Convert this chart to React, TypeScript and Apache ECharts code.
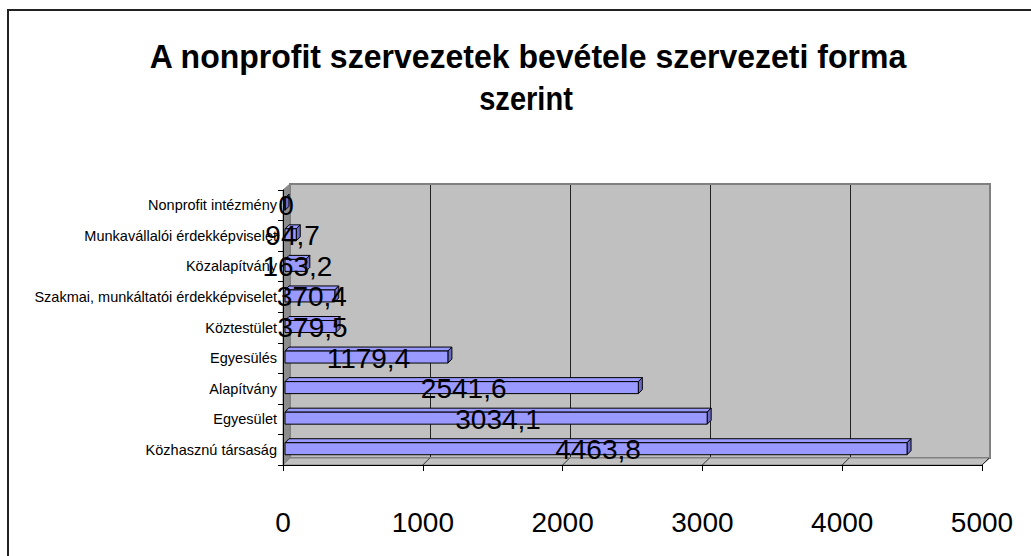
import React, { useEffect, useRef } from 'react';
import * as echarts from 'echarts';

// ---- data ----
const titleLines = ['A nonprofit szervezetek bevétele szervezeti forma', 'szerint'];
const categories = [
  'Nonprofit intézmény',
  'Munkavállalói érdekképviselet',
  'Közalapítvány',
  'Szakmai, munkáltatói érdekképviselet',
  'Köztestület',
  'Egyesülés',
  'Alapítvány',
  'Egyesület',
  'Közhasznú társaság',
];
const values = [0, 94.7, 163.2, 370.4, 379.5, 1179.4, 2541.6, 3034.1, 4463.8];
const xMin = 0;
const xMax = 5000;
const xInterval = 1000;

// ---- layout ----
const W = 1031;
const H = 556;
const FRONT = { left: 283, right: 982, top: 190, bottom: 465 };
const DX = 7;
const DY = -7;
const BACK = { left: FRONT.left + DX, right: 990, top: 184, bottom: FRONT.bottom + DY };
const FONT = '"Liberation Sans", Arial, sans-serif';

const fmt = (v: number) => (v === 0 ? '0' : v.toFixed(1).replace('.', ','));

function buildOption() {
  const ticks: number[] = [];
  for (let t = xMin; t <= xMax; t += xInterval) ticks.push(t);
  const xf = (t: number) => FRONT.left + ((t - xMin) / (xMax - xMin)) * (FRONT.right - FRONT.left);

  const graphics: any[] = [
    // back wall outline
    {
      type: 'rect',
      z: 1,
      shape: { x: BACK.left, y: BACK.top, width: BACK.right - BACK.left, height: BACK.bottom - BACK.top },
      style: { fill: 'none', stroke: '#808080', lineWidth: 2 },
    },
    // left wall
    {
      type: 'polygon',
      z: 1,
      shape: {
        points: [
          [FRONT.left, FRONT.top],
          [BACK.left, BACK.top],
          [BACK.left, BACK.bottom],
          [FRONT.left, FRONT.bottom],
        ],
      },
      style: { fill: '#8c8c8c', stroke: '#808080', lineWidth: 1 },
    },
    // floor
    {
      type: 'polygon',
      z: 1,
      shape: {
        points: [
          [FRONT.left, FRONT.bottom],
          [FRONT.right, FRONT.bottom],
          [BACK.right, BACK.bottom],
          [BACK.left, BACK.bottom],
        ],
      },
      style: { fill: '#c0c0c0', stroke: '#808080', lineWidth: 1 },
    },
    // outer frame
    {
      type: 'rect',
      z: 10,
      shape: { x: 8, y: 10, width: 1100, height: 700 },
      style: { fill: 'none', stroke: '#222', lineWidth: 2 },
    },
    {
      type: 'text',
      z: 10,
      x: 528,
      y: 57,
      scaleX: 0.97,
      style: {
        text: titleLines[0],
        align: 'center',
        verticalAlign: 'middle',
        font: `bold 33px ${FONT}`,
        fill: '#000',
      },
    },
    {
      type: 'text',
      z: 10,
      x: 526,
      y: 99,
      scaleX: 0.88,
      style: {
        text: titleLines[1],
        align: 'center',
        verticalAlign: 'middle',
        font: `bold 33px ${FONT}`,
        fill: '#000',
      },
    },
  ];
  // floor diagonal tick lines
  ticks.forEach((t) => {
    if (t === xMin) return;
    graphics.push({
      type: 'line',
      z: 1,
      shape: { x1: xf(t), y1: FRONT.bottom, x2: xf(t) + DX, y2: FRONT.bottom + DY },
      style: { stroke: '#333', lineWidth: 1 },
    });
  });

  const data = values.map((v, i) => [v, i]);
  const BAR_H = 12;
  const D = 4;

  return {
    animation: false,
    textStyle: { fontFamily: FONT },
    grid: [
      {
        left: BACK.left,
        right: W - BACK.right,
        top: BACK.top,
        bottom: H - BACK.bottom,
        show: true,
        backgroundColor: '#c0c0c0',
        borderWidth: 0,
        z: -1,
      },
      {
        left: FRONT.left,
        right: W - FRONT.right,
        top: FRONT.top,
        bottom: H - FRONT.bottom,
        containLabel: false,
      },
    ],
    xAxis: [
      {
        gridIndex: 0,
        type: 'value',
        min: xMin,
        max: xMax,
        interval: xInterval,
        axisLine: { show: false },
        axisTick: { show: false },
        axisLabel: { show: false },
        splitLine: { show: true, lineStyle: { color: '#222', width: 1 } },
        z: 0,
      },
      {
        gridIndex: 1,
        type: 'value',
        min: xMin,
        max: xMax,
        interval: xInterval,
        z: 3,
        axisLine: { show: true, lineStyle: { color: '#000', width: 1 } },
        axisTick: { show: true, length: 6, lineStyle: { color: '#000' } },
        axisLabel: {
          show: true,
          fontSize: 28,
          color: '#000',
          margin: 43,
          fontFamily: FONT,
          formatter: (v: number) => String(v),
        },
        splitLine: { show: false },
      },
    ],
    yAxis: [
      {
        gridIndex: 0,
        type: 'category',
        data: categories,
        inverse: true,
        show: false,
      },
      {
        gridIndex: 1,
        type: 'category',
        data: categories,
        inverse: true,
        z: 3,
        axisLine: { show: true, lineStyle: { color: '#000', width: 1 } },
        axisTick: { show: true, length: 5, lineStyle: { color: '#000' } },
        axisLabel: { show: true, fontSize: 14.5, color: '#000', margin: 6, fontFamily: FONT },
        splitLine: { show: false },
      },
    ],
    graphic: graphics,
    series: [
      {
        type: 'custom',
        xAxisIndex: 1,
        yAxisIndex: 1,
        z: 2,
        data,
        encode: { x: 0, y: 1 },
        renderItem: (params: any, api: any) => {
          const v = api.value(0);
          const c = api.value(1);
          const p0 = api.coord([0, c]);
          const p1 = api.coord([v, c]);
          const x0 = p0[0] + 2;
          const x1 = Math.max(p1[0], x0);
          const yc = p1[1] - 1;
          const yt = yc - BAR_H / 2;
          const yb = yc + BAR_H / 2;
          const st = { stroke: '#000', lineWidth: 1 };
          return {
            type: 'group',
            children: [
              {
                type: 'polygon',
                shape: { points: [[x0, yt], [x1, yt], [x1 + D, yt - D], [x0 + D, yt - D]] },
                style: { fill: '#9999ff', ...st },
              },
              {
                type: 'polygon',
                shape: { points: [[x1, yt], [x1 + D, yt - D], [x1 + D, yb - D], [x1, yb]] },
                style: { fill: '#6b6bc4', ...st },
              },
              {
                type: 'rect',
                shape: { x: x0, y: yt, width: x1 - x0, height: BAR_H },
                style: { fill: '#9999ff', ...st },
              },
            ],
          };
        },
      },
      {
        type: 'custom',
        xAxisIndex: 1,
        yAxisIndex: 1,
        z: 5,
        data,
        encode: { x: 0, y: 1 },
        renderItem: (params: any, api: any) => {
          const v = api.value(0);
          const c = api.value(1);
          const p0 = api.coord([0, c]);
          const p1 = api.coord([v, c]);
          return {
            type: 'text',
            x: (p0[0] + p1[0]) / 2 + 3,
            y: p1[1],
            style: {
              text: fmt(v),
              align: 'center',
              verticalAlign: 'middle',
              font: `28px ${FONT}`,
              fill: '#000',
            },
          };
        },
      },
    ],
  };
}

export default function App() {
  const ref = useRef<HTMLDivElement>(null);
  useEffect(() => {
    if (!ref.current) return;
    const chart = echarts.init(ref.current, null, { renderer: 'svg' });
    chart.setOption(buildOption() as any);
    return () => chart.dispose();
  }, []);
  return (
    <div
      ref={ref}
      style={{ position: 'absolute', left: 0, top: 0, width: W, height: H, background: '#fff' }}
    />
  );
}
